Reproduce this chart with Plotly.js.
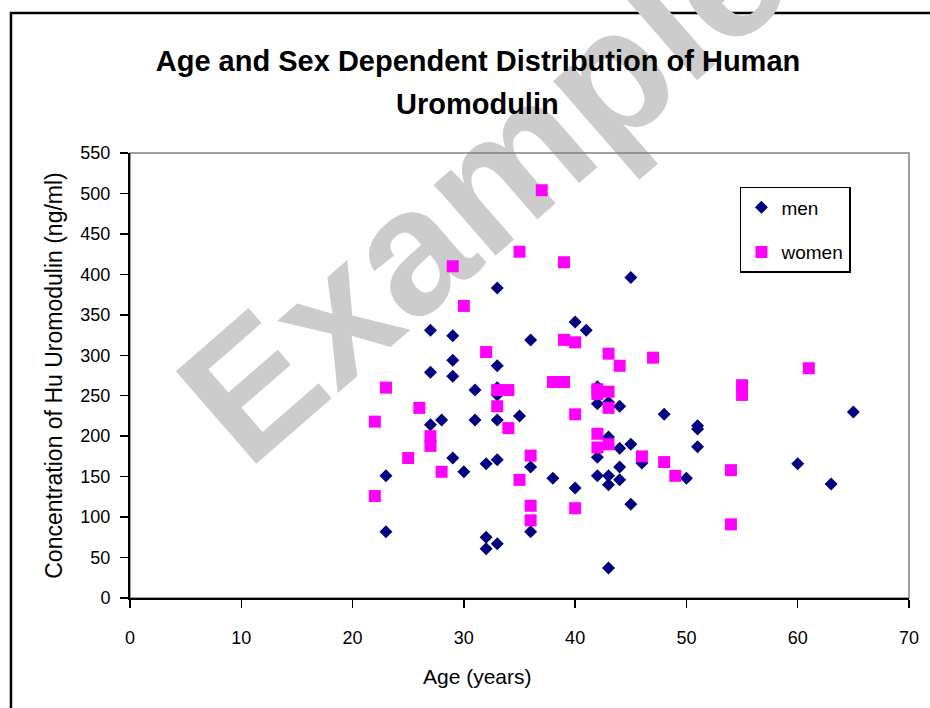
<!DOCTYPE html>
<html>
<head>
<meta charset="utf-8">
<script src="https://cdn.plot.ly/plotly-3.0.1.min.js"></script>
<style>html,body{margin:0;padding:0;background:#fff;}</style>
</head>
<body>
<div id="chart" style="width:930px;height:708px;"></div>
<script>
// Men: age (years) and Hu Uromodulin concentration (ng/ml)
const menAge = [23,23, 27,27,27, 28, 29,29,29,29, 30, 31,31, 32,32,32,
  33,33,33,33,33,33,33, 35, 36,36,36, 38, 40,40, 41, 42,42,42,42,
  43,43,43,43,43, 44,44,44,44, 45,45,45, 46, 48, 50, 51,51,51, 60, 63, 65];
const menConc = [82,151, 331,279,214, 220, 324,294,274,173, 156, 257,220, 166,75,61,
  383,287,260,251,220,171,67, 225, 319,162,82, 148, 341,136, 331, 261,240,174,151,
  242,199,151,140,37, 237,185,162,146, 396,190,116, 167, 227, 148, 213,209,187, 166, 141, 230];

// Women
const womenAge = [22,22, 23, 25, 26, 27,27, 28, 29, 30, 32, 33,33, 34,34, 35,35,
  36,36,36, 37, 38, 39,39,39, 40,40,40, 42,42,42,42, 43,43,43,43, 44, 46, 47, 48, 49,
  54,54, 55,55, 61];
const womenConc = [218,126, 260, 173, 235, 200,188, 156, 410, 361, 304, 257,237, 257,210, 428,146,
  176,114,96, 504, 267, 415,319,267, 316,227,111, 258,252,203,186, 302,255,235,190, 287, 175, 297, 168, 151,
  158,91, 263,251, 284];

const seriesNames = ['men', 'women'];
const xTicks = [0,10,20,30,40,50,60,70];
const yTicks = [0,50,100,150,200,250,300,350,400,450,500,550];

const titleLine1 = 'Age and Sex Dependent Distribution of Human';
const titleLine2 = 'Uromodulin';
const xTitle = 'Age (years)';
const yTitle = 'Concentration of Hu Uromodulin (ng/ml)';
const watermark = 'Example';

const FONT = 'Liberation Sans, Arial, sans-serif';
const TITLE_FONT = {family: FONT, size: 29, weight: 'bold', color: '#000000'};

const traces = [
  {
    type: 'scatter', mode: 'markers', name: seriesNames[0], legendgroup: 'g1',
    x: menAge, y: menConc,
    marker: {symbol: 'diamond', size: 10, color: '#000080', line: {width: 0}},
    cliponaxis: false
  },
  {
    type: 'scatter', mode: 'markers', name: seriesNames[1], legendgroup: 'g2',
    x: womenAge, y: womenConc,
    marker: {symbol: 'square', size: 12, color: '#FF00FF', line: {width: 0}},
    cliponaxis: false
  }
];

const layout = {
  width: 930, height: 708,
  margin: {l: 130, r: 21, t: 153, b: 110, pad: 0},
  paper_bgcolor: '#ffffff',
  plot_bgcolor: 'rgba(0,0,0,0)',
  font: {family: FONT, color: '#000000'},
  title: {
    text: titleLine1,
    font: TITLE_FONT,
    x: 0.514, xref: 'container', xanchor: 'center',
    y: 1 - 61 / 708, yref: 'container', yanchor: 'middle'
  },
  annotations: [
    {text: titleLine2, xref: 'paper', yref: 'paper', x: 0.4467, y: 1.110,
     xanchor: 'center', yanchor: 'middle', showarrow: false, font: TITLE_FONT},
    {text: xTitle, xref: 'paper', yref: 'paper', x: 0.4467, y: -0.1775,
     xanchor: 'center', yanchor: 'middle', showarrow: false,
     font: {family: FONT, size: 21, color: '#000000'}}
  ],
  xaxis: {
    range: [0, 70], tickmode: 'array', tickvals: xTicks,
    ticks: 'outside', ticklen: 8, tickwidth: 1.5, tickcolor: '#000000',
    showline: true, linecolor: '#000000', linewidth: 2,
    showgrid: false, zeroline: false,
    tickfont: {family: FONT, size: 18, color: '#000000'},
    ticklabelstandoff: 14
  },
  yaxis: {
    range: [0, 550], tickmode: 'array', tickvals: yTicks,
    ticks: 'outside', ticklen: 8, tickwidth: 1.5, tickcolor: '#000000',
    showline: true, linecolor: '#000000', linewidth: 2,
    showgrid: false, zeroline: false,
    tickfont: {family: FONT, size: 18, color: '#000000'},
    ticklabelstandoff: 6,
    title: {text: yTitle, font: {family: FONT, size: 23, color: '#000000'}, standoff: 11}
  },
  legend: {
    x: 0.783, y: 0.9236, xanchor: 'left', yanchor: 'top',
    bgcolor: '#ffffff', bordercolor: '#000000', borderwidth: 1.5,
    font: {family: FONT, size: 19, color: '#000000'},
    tracegroupgap: 17, traceorder: 'grouped', itemwidth: 30
  },
  shapes: [
    // outer chart frame
    {type: 'rect', xref: 'paper', yref: 'paper', x0: -0.1528, x1: 1.06, y0: -0.3, y1: 1.3146,
     line: {color: '#000000', width: 2.5}, fillcolor: 'rgba(0,0,0,0)', layer: 'below'},
    // watermark
    {type: 'rect', xref: 'paper', yref: 'paper', x0: 0.434, x1: 0.444, y0: 0.952, y1: 0.962,
     line: {width: 0}, fillcolor: 'rgba(0,0,0,0)', layer: 'below',
     label: {text: watermark, textangle: -41, textposition: 'middle center', padding: 0,
             font: {family: FONT, size: 178, weight: 'bold', color: '#cccccc'}}},
    // plot area frame (grey top/right)
    {type: 'rect', xref: 'paper', yref: 'paper', x0: 0, x1: 1, y0: 0, y1: 1,
     line: {color: '#808080', width: 1.5}, fillcolor: 'rgba(0,0,0,0)', layer: 'below'}
  ],
  showlegend: true,
  hovermode: false
};

Plotly.newPlot('chart', traces, layout, {staticPlot: true, displayModeBar: false});
</script>
</body>
</html>
